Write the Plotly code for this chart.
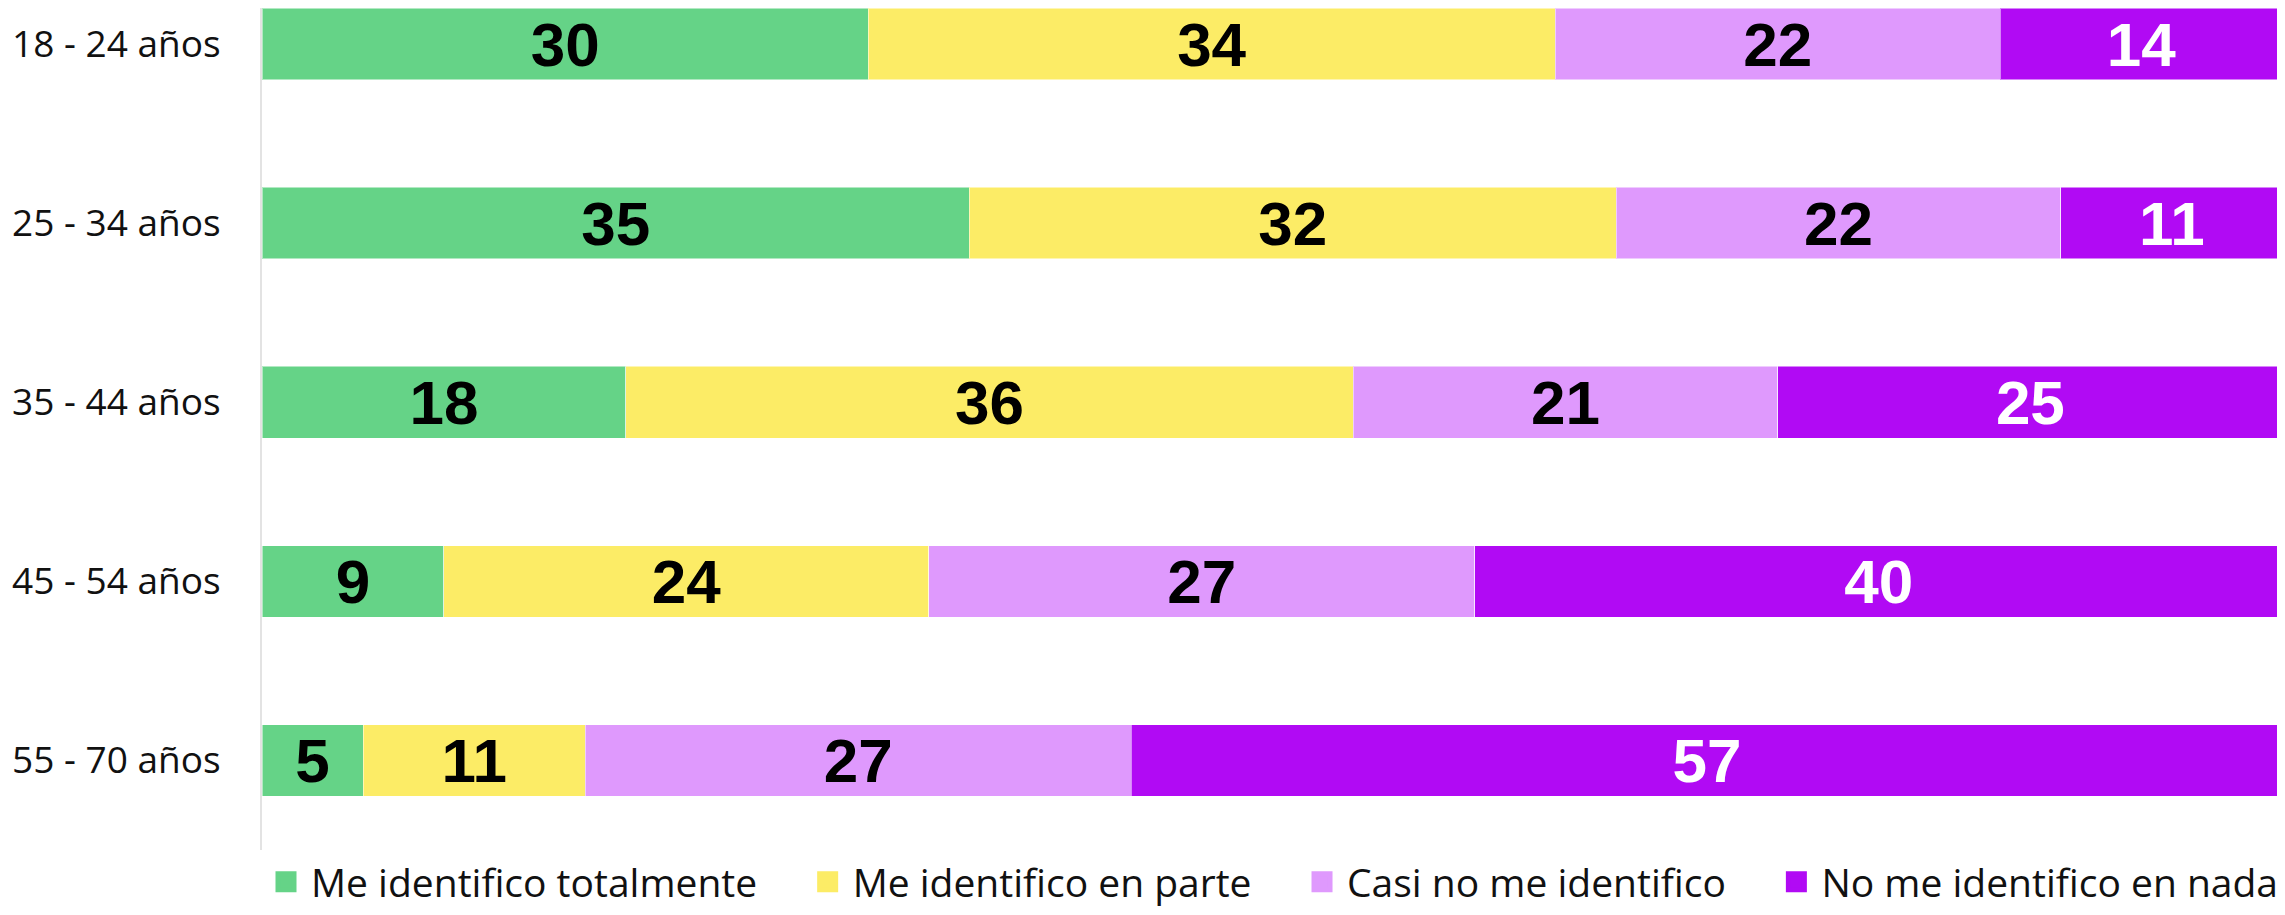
import plotly.graph_objects as go

categories = ["18 - 24 años", "25 - 34 años", "35 - 44 años", "45 - 54 años", "55 - 70 años"]
series_names = ["Me identifico totalmente", "Me identifico en parte",
                "Casi no me identifico", "No me identifico en nada"]
totalmente = [30, 35, 18, 9, 5]
en_parte = [34, 32, 36, 24, 11]
casi_no = [22, 22, 21, 27, 27]
en_nada = [14, 11, 25, 40, 57]

series_values = [totalmente, en_parte, casi_no, en_nada]
colors = ["#65D387", "#FCEC66", "#DF99FD", "#B10AF4"]
label_colors = ["#000000", "#000000", "#000000", "#FFFFFF"]

TICK_FONT = "Open Sans"
LABEL_FONT = "Liberation Sans"
NBSP = "\u00a0"

fig = go.Figure()
for name, vals, col, lc in zip(series_names, series_values, colors, label_colors):
    fig.add_trace(go.Bar(
        y=categories, x=vals, name=name, orientation="h",
        marker=dict(color=col, line=dict(color="rgba(255,255,255,0.5)", width=1)),
        text=[str(v) for v in vals], textposition="inside", textangle=0,
        insidetextanchor="middle", constraintext="none",
        textfont=dict(family=LABEL_FONT, size=62, color=lc, weight="bold"),
        showlegend=False, hoverinfo="skip",
    ))

# legend entries with larger square symbols
for i, (name, col) in enumerate(zip(series_names, colors)):
    pad = NBSP * 4 if i < len(series_names) - 1 else ""
    fig.add_trace(go.Scatter(
        x=[None], y=[None], mode="markers", name=name + pad,
        marker=dict(symbol="square", size=16, color=col, line=dict(color=col, width=5)),
        showlegend=True,
    ))

fig.update_layout(
    barmode="stack",
    bargap=0.6,
    width=2277, height=899,
    margin=dict(l=254, r=2, t=0, b=57, autoexpand=False),
    paper_bgcolor="white", plot_bgcolor="white",
    xaxis=dict(range=[0, 100], visible=False, fixedrange=True),
    yaxis=dict(
        type="category", categoryorder="array", categoryarray=categories,
        range=[4.5, -0.201], showgrid=False, zeroline=False,
        showline=True, linecolor="#E3E3E3", linewidth=2,
        ticks="outside", ticklen=32, tickcolor="rgba(0,0,0,0)",
        tickfont=dict(family=TICK_FONT, size=37, color="#111111"),
    ),
    legend=dict(
        orientation="h", x=0.5, xanchor="center", y=-0.038, yanchor="middle",
        font=dict(family=TICK_FONT, size=39, color="#111111"),
        itemwidth=40, traceorder="normal",
    ),
    showlegend=True,
)

fig.write_html("out.html")
